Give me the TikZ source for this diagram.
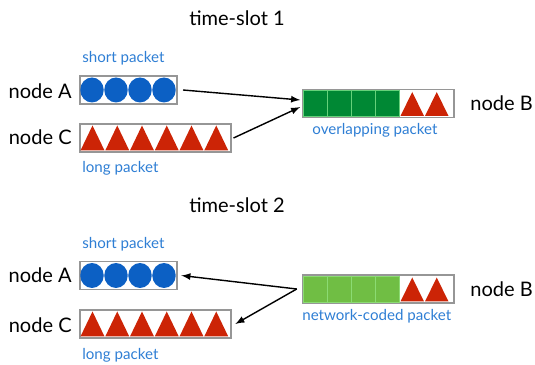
\documentclass[tikz,border=0pt]{standalone}
\usepackage{fontspec}
\setmainfont{Lato}
\usepackage{tikz}
\usetikzlibrary{calc,positioning}
\definecolor{cblue}{RGB}{12,96,196}
\definecolor{tred}{RGB}{204,36,6}
\definecolor{dgreen}{RGB}{0,136,52}
\definecolor{lgreen}{RGB}{112,190,68}
\definecolor{lblue}{RGB}{46,126,212}
\definecolor{boxgray}{RGB}{150,150,150}

\tikzset{
  pkt/.style={draw=boxgray, line width=1pt, rectangle, inner sep=0pt, minimum height=0.56cm},
  lbl/.style={text=lblue, font=\fontsize{8.6}{10}\selectfont, inner sep=0pt},
  nd/.style={font=\fontsize{11.4}{13}\selectfont, inner sep=0pt},
  arr/.style={-latex, line width=0.8pt}
}

\begin{document}
\begin{tikzpicture}
    \useasboundingbox (0,0) rectangle (10.7,7.3);

    % time-slot 1
    \node[nd] (t1) at (4.74, 6.94) {time-slot 1};
    \node[pkt, minimum width=1.94cm, anchor=west] (a1) at (1.58, 5.50) {};
    \node[pkt, minimum width=3.02cm, anchor=west] (c1) at (1.58, 4.54) {};
    \node[pkt, minimum width=3.02cm, anchor=west] (o1) at (6.04, 5.23) {};

    \node[nd, anchor=east] (na1) at (1.44, 5.48) {node A};
    \node[nd, anchor=east] (nc1) at (1.44, 4.55) {node C};
    \node[nd, anchor=west] (nb1) at (9.40, 5.24) {node B};
    \node[lbl, anchor=west] (s1) at (1.64, 6.14) {short packet};
    \node[lbl, anchor=west] (l1) at (1.64, 3.94) {long packet};
    \node[lbl] (ov1) at (7.50, 4.70) {overlapping packet};

    \foreach \i in {0,...,3}
      \fill[cblue] ($(a1.west)+(0.26+0.48*\i,0)$) ellipse (0.235 and 0.25);
    \foreach \i in {0,...,5}
      \fill[tred] ($(c1.west)+(0.03+0.495*\i,-0.25)$) -- ++(0.48,0) -- ++(-0.24,0.5) -- cycle;
    \foreach \i in {0,...,3}
      \filldraw[fill=dgreen, draw=green!35!dgreen!60, line width=0.5pt] ($(o1.west)+(0.02+0.48*\i,-0.26)$) rectangle ++(0.48,0.52);
    \foreach \i in {0,1}
      \fill[tred] ($(o1.west)+(1.97+0.49*\i,-0.25)$) -- ++(0.47,0) -- ++(-0.235,0.48) -- cycle;

    \draw[arr] ([xshift=3pt]a1.east) -- ([yshift=2pt, xshift=-1pt]o1.west);
    \draw[arr] ([xshift=1pt]c1.east) -- ([yshift=-2pt, xshift=-1pt]o1.west);

    % time-slot 2
    \node[nd] (t2) at (4.74, 3.20) {time-slot 2};
    \node[pkt, minimum width=1.94cm, anchor=west] (a2) at (1.58, 1.79) {};
    \node[pkt, minimum width=3.02cm, anchor=west] (c2) at (1.58, 0.82) {};
    \node[pkt, minimum width=3.02cm, anchor=west] (n2) at (6.04, 1.52) {};

    \node[nd, anchor=east] (na2) at (1.44, 1.79) {node A};
    \node[nd, anchor=east] (nc2) at (1.44, 0.80) {node C};
    \node[nd, anchor=west] (nb2) at (9.40, 1.52) {node B};
    \node[lbl, anchor=west] (s2) at (1.64, 2.42) {short packet};
    \node[lbl, anchor=west] (l2) at (1.64, 0.20) {long packet};
    \node[lbl, anchor=west] (nc) at (6.04, 0.98) {network-coded packet};

    \foreach \i in {0,...,3}
      \fill[cblue] ($(a2.west)+(0.26+0.48*\i,0)$) ellipse (0.235 and 0.25);
    \foreach \i in {0,...,5}
      \fill[tred] ($(c2.west)+(0.03+0.495*\i,-0.25)$) -- ++(0.48,0) -- ++(-0.24,0.5) -- cycle;
    \foreach \i in {0,...,3}
      \filldraw[fill=lgreen, draw=green!20!lgreen!70, line width=0.5pt] ($(n2.west)+(0.02+0.48*\i,-0.26)$) rectangle ++(0.48,0.52);
    \foreach \i in {0,1}
      \fill[tred] ($(n2.west)+(1.97+0.49*\i,-0.25)$) -- ++(0.47,0) -- ++(-0.235,0.48) -- cycle;

    \draw[arr] ([xshift=-3pt]n2.west) -- ([xshift=2pt]a2.east);
    \draw[arr] ([xshift=-3pt]n2.west) -- ([xshift=2pt]c2.east);
\end{tikzpicture}
\end{document}
